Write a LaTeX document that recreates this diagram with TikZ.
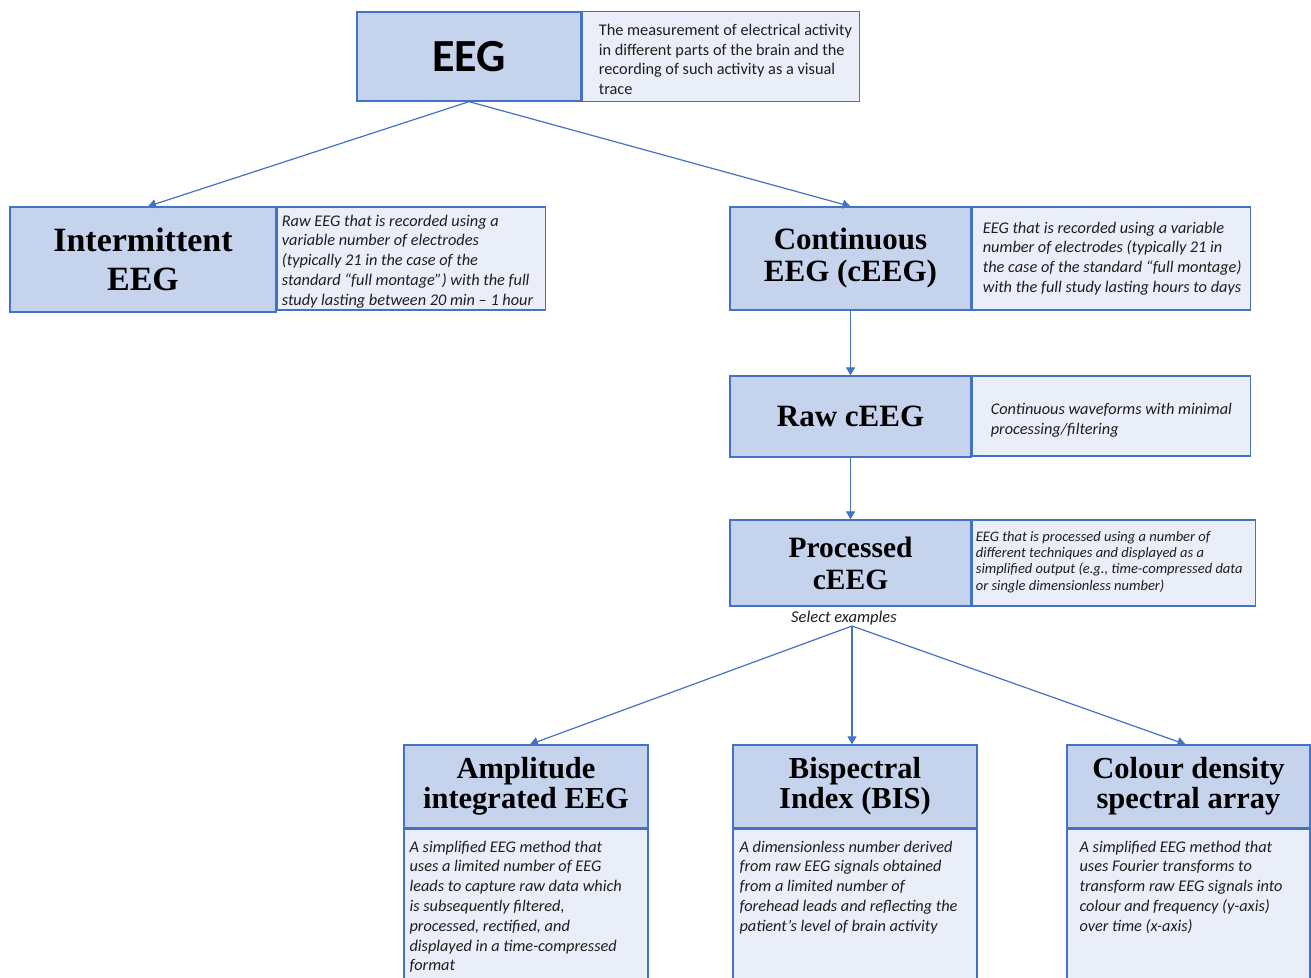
\documentclass[tikz,border=0pt]{standalone}
\usepackage{fontspec}
\setmainfont{Liberation Serif}
\newfontfamily\calfont[Ligatures=TeX]{Carlito}
\usetikzlibrary{arrows.meta}
\definecolor{bc}{HTML}{4472C4}
\definecolor{lf}{HTML}{C5D3EC}
\definecolor{rf}{HTML}{E9EEF8}
\definecolor{tx}{HTML}{1E1E1E}
\begin{document}
\begin{tikzpicture}[x=1pt,y=-1pt,
 lbox/.style={draw=bc, fill=lf, line width=1.3pt, inner sep=0pt, align=center, text=black},
 rbox/.style={draw=bc, fill=rf, line width=1.3pt, inner sep=0pt},
 ttl/.style={font=\bfseries\fontsize{30.5}{30}\selectfont},
 desc/.style={font=\calfont\itshape\fontsize{16.3}{19.8}\selectfont, text=tx, align=left, inner sep=0pt},
 arr/.style={draw=bc, line width=1.2pt, -{Triangle[width=9pt,length=8pt]}}]
\useasboundingbox (0,0) rectangle (1311,977);
\clip (0,0) rectangle (1311,977);
\fill[white] (0,0) rectangle (1311,977);

% EEG
\node[lbox, minimum width=224pt, minimum height=89pt, font=\calfont\bfseries\fontsize{46}{50}\selectfont] (eeg) at (469,56.5) {EEG};
\node[rbox, minimum width=277pt, minimum height=90pt, anchor=west] (eegd) at (eeg.east) {};
\node[desc, font=\calfont\fontsize{16.3}{19.5}\selectfont, anchor=west] (eegt) at ([xshift=17pt,yshift=-3pt]eegd.west) {The measurement of electrical activity\\in different parts of the brain and the\\recording of such activity as a visual\\trace};

% Intermittent
\node[lbox, minimum width=266pt, minimum height=105pt, font=\bfseries\fontsize{34}{39}\selectfont] (int) at (143,259.5) {Intermittent\\EEG};
\node[rbox, minimum width=268pt, minimum height=103pt, anchor=north west] (intd) at (int.north east) {};
\node[desc, anchor=west] (intt) at ([xshift=5pt,yshift=-3pt]intd.west) {Raw EEG that is recorded using a\\variable number of electrodes\\(typically 21 in the case of the\\standard “full montage”) with the full\\study lasting between 20 min – 1 hour};

% Continuous
\node[lbox, minimum width=241pt, minimum height=103pt, font=\bfseries\fontsize{31}{32}\selectfont] (cont) at (850.5,258.5) {Continuous\\EEG (cEEG)};
\node[rbox, minimum width=278pt, minimum height=103pt, anchor=west] (contd) at (cont.east) {};
\node[desc, anchor=west] (contt) at ([xshift=11pt]contd.west) {EEG that is recorded using a variable\\number of electrodes (typically 21 in\\the case of the standard “full montage)\\with the full study lasting hours to days};

% Raw cEEG
\node[lbox, minimum width=241pt, minimum height=81pt, font=\bfseries\fontsize{31}{32}\selectfont] (raw) at (850.5,416.5) {Raw cEEG};
\node[rbox, minimum width=278pt, minimum height=80pt, anchor=north west] (rawd) at (raw.north east) {};
\node[desc, anchor=west] (rawt) at ([xshift=19pt,yshift=-4pt]rawd.west) {Continuous waveforms with minimal\\processing/filtering};

% Processed cEEG
\node[lbox, minimum width=241pt, minimum height=86pt, font=\bfseries\fontsize{29.5}{32}\selectfont] (proc) at (850.5,563) {Processed\\cEEG};
\node[rbox, minimum width=283pt, minimum height=86pt, anchor=west] (procd) at (proc.east) {};
\node[desc, font=\calfont\itshape\fontsize{14.5}{16.4}\selectfont, anchor=west] (proct) at ([xshift=4pt,yshift=1pt]procd.west) {EEG that is processed using a number of\\different techniques and displayed as a\\simplified output (e.g., time-compressed data\\or single dimensionless number)};

\node[desc, font=\calfont\itshape\fontsize{16.5}{18}\selectfont] (sel) at (844,618) {Select examples};
\coordinate (sx) at (852,626);

% Bottom boxes
\node[lbox, ttl, minimum width=244pt, minimum height=83pt] (amp) at (526,786.5) {Amplitude\\integrated EEG};
\node[rbox, minimum width=244pt, minimum height=170pt, anchor=north] (ampd) at (amp.south) {};
\node[desc, anchor=north west] (ampt) at ([xshift=6pt,yshift=-12pt]ampd.north west) {A simplified EEG method that\\uses a limited number of EEG\\leads to capture raw data which\\is subsequently filtered,\\processed, rectified, and\\displayed in a time-compressed\\format};

\node[lbox, ttl, minimum width=244pt, minimum height=83pt] (bis) at (855,786.5) {Bispectral\\Index (BIS)};
\node[rbox, minimum width=244pt, minimum height=170pt, anchor=north] (bisd) at (bis.south) {};
\node[desc, anchor=north west] (bist) at ([xshift=7pt,yshift=-12pt]bisd.north west) {A dimensionless number derived\\from raw EEG signals obtained\\from a limited number of\\forehead leads and reflecting the\\patient’s level of brain activity};

\node[lbox, ttl, minimum width=243pt, minimum height=83pt] (col) at (1188.5,786.5) {Colour density\\spectral array};
\node[rbox, minimum width=243pt, minimum height=170pt, anchor=north] (cold) at (col.south) {};
\node[desc, anchor=north west] (colt) at ([xshift=13pt,yshift=-12pt]cold.north west) {A simplified EEG method that\\uses Fourier transforms to\\transform raw EEG signals into\\colour and frequency (y-axis)\\over time (x-axis)};

% Connectors
\draw[arr] (eeg.south) -- ([xshift=5pt]int.north);
\draw[arr] (eeg.south) -- (cont.north);
\draw[arr] (cont.south) -- (raw.north);
\draw[arr] (raw.south) -- (proc.north);
\draw[arr] (sx) -- ([xshift=4pt]amp.north);
\draw[arr] (sx) -- ([xshift=-3pt]bis.north);
\draw[arr] (sx) -- ([xshift=-3pt]col.north);
\end{tikzpicture}
\end{document}
